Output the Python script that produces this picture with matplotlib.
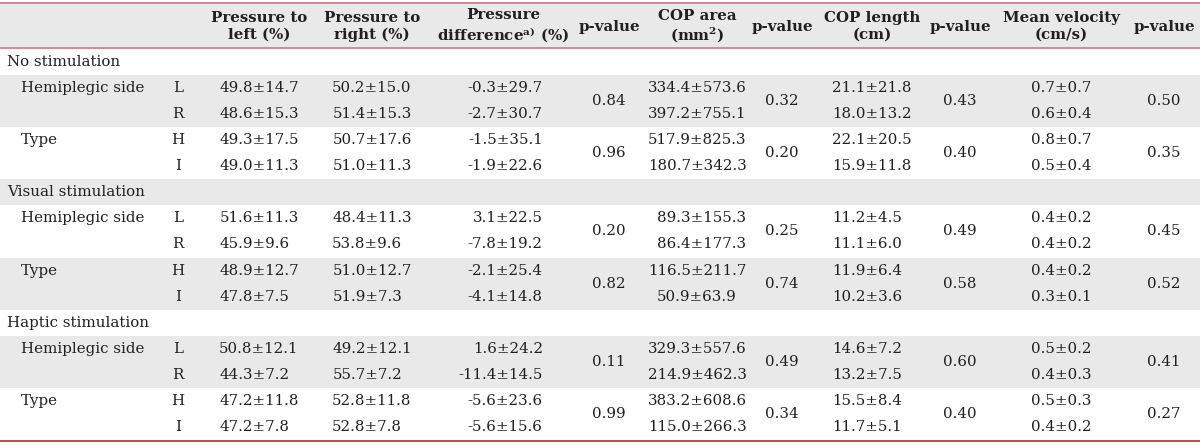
import matplotlib
matplotlib.use("Agg")
import matplotlib.pyplot as plt

# ---------------- data ----------------
groups = ["No stimulation", "Visual stimulation", "Haptic stimulation"]
factors = ["Hemiplegic side", "Type"]
levels = [["L", "R"], ["H", "I"]]

headers = [
    "Pressure to\nleft (%)",
    "Pressure to\nright (%)",
    "Pressure\ndifference$^{\\mathbf{a)}}$ (%)",
    "p-value",
    "COP area\n(mm$^{\\mathbf{2}}$)",
    "p-value",
    "COP length\n(cm)",
    "p-value",
    "Mean velocity\n(cm/s)",
    "p-value",
]

press_left = ["49.8±14.7", "48.6±15.3", "49.3±17.5", "49.0±11.3",
              "51.6±11.3", "45.9±9.6", "48.9±12.7", "47.8±7.5",
              "50.8±12.1", "44.3±7.2", "47.2±11.8", "47.2±7.8"]
press_right = ["50.2±15.0", "51.4±15.3", "50.7±17.6", "51.0±11.3",
               "48.4±11.3", "53.8±9.6", "51.0±12.7", "51.9±7.3",
               "49.2±12.1", "55.7±7.2", "52.8±11.8", "52.8±7.8"]
press_diff = ["-0.3±29.7", "-2.7±30.7", "-1.5±35.1", "-1.9±22.6",
              "3.1±22.5", "-7.8±19.2", "-2.1±25.4", "-4.1±14.8",
              "1.6±24.2", "-11.4±14.5", "-5.6±23.6", "-5.6±15.6"]
p_diff = ["0.84", "0.96", "0.20", "0.82", "0.11", "0.99"]
cop_area = ["334.4±573.6", "397.2±755.1", "517.9±825.3", "180.7±342.3",
            "89.3±155.3", "86.4±177.3", "116.5±211.7", "50.9±63.9",
            "329.3±557.6", "214.9±462.3", "383.2±608.6", "115.0±266.3"]
p_area = ["0.32", "0.20", "0.25", "0.74", "0.49", "0.34"]
cop_len = ["21.1±21.8", "18.0±13.2", "22.1±20.5", "15.9±11.8",
           "11.2±4.5", "11.1±6.0", "11.9±6.4", "10.2±3.6",
           "14.6±7.2", "13.2±7.5", "15.5±8.4", "11.7±5.1"]
p_len = ["0.43", "0.40", "0.49", "0.58", "0.60", "0.40"]
mean_vel = ["0.7±0.7", "0.6±0.4", "0.8±0.7", "0.5±0.4",
            "0.4±0.2", "0.4±0.2", "0.4±0.2", "0.3±0.1",
            "0.5±0.2", "0.4±0.3", "0.5±0.3", "0.4±0.2"]
p_vel = ["0.50", "0.35", "0.45", "0.52", "0.41", "0.27"]

# ---------------- layout ----------------
W, H = 1200, 445
plt.rcParams["font.family"] = ["DejaVu Serif"]
plt.rcParams["mathtext.fontset"] = "dejavuserif"
FS = 10.8
TXT = "#231f20"
GRAY = "#e9e9e9"
LINE_HDR = "#d48a92"
LINE_BOT = "#c0474f"

fig = plt.figure(figsize=(W / 100, H / 100), dpi=100)
ax = fig.add_axes([0, 0, 1, 1])
ax.set_xlim(0, W)
ax.set_ylim(H, 0)
ax.axis("off")
renderer = fig.canvas.get_renderer()

col_x = [259, 372, 503, 609, 697, 782, 872, 960, 1061, 1164]
hdr_top, hdr_bot = 3, 48
body_top, body_bot = 49, 440
n_rows = 15
rh = (body_bot - body_top) / n_rows


def row_c(i):
    return body_top + rh * (i + 0.5)


# header background
ax.axhspan(hdr_top, hdr_bot, color=GRAY, lw=0, zorder=0)

gray_rows = []
row = 0
band = 0
layout = []
for g in range(len(groups)):
    layout.append(("group", g, row))
    if band % 2 == 1:
        gray_rows.append((row, 1))
    band += 1
    row += 1
    for f in range(len(factors)):
        layout.append(("factor", (g, f), row))
        if band % 2 == 1:
            gray_rows.append((row, 2))
        band += 1
        row += 2

for r0, n in gray_rows:
    ax.axhspan(body_top + rh * r0, body_top + rh * (r0 + n), color=GRAY, lw=0, zorder=0)

ax.axhline(hdr_top, color=LINE_HDR, lw=1.4, zorder=2)
ax.axhline(hdr_bot, color=LINE_HDR, lw=1.4, zorder=2)
ax.axhline(body_bot + 1, color=LINE_BOT, lw=1.4, zorder=2)

for x, h in zip(col_x, headers):
    ax.text(x, (hdr_top + hdr_bot) / 2 + 1, h, ha="center", va="center",
            fontsize=FS, fontweight="bold", color=TXT, linespacing=1.2)

val_cols = [(press_left, 0), (press_right, 1), (press_diff, 2),
            (cop_area, 4), (cop_len, 6), (mean_vel, 8)]
p_cols = [(p_diff, 3), (p_area, 5), (p_len, 7), (p_vel, 9)]


def text_width(s):
    t = ax.text(0, 0, s, fontsize=FS)
    bb = t.get_window_extent(renderer=renderer)
    t.remove()
    return bb.width  # pixels == data units here


pm_w = text_width("±")


def pm_text(x, y, s):
    left = s.split("±")[0]
    full_w = text_width(s)
    left_w = text_width(left + "±") - pm_w
    ax.text(x - pm_w / 2 - left_w, y, s, ha="left", va="center", fontsize=FS, color=TXT)


for kind, key, r in layout:
    if kind == "group":
        ax.text(7, row_c(r), groups[key], ha="left", va="center", fontsize=FS, color=TXT)
    else:
        g, f = key
        blk = g * 2 + f
        ax.text(21, row_c(r), factors[f], ha="left", va="center", fontsize=FS, color=TXT)
        for k in range(2):
            y = row_c(r + k)
            ax.text(178, y, levels[f][k], ha="center", va="center", fontsize=FS, color=TXT)
            idx = blk * 2 + k
            for vals, ci in val_cols:
                pm_text(col_x[ci], y, vals[idx])
        ymid = body_top + rh * (r + 1)
        for pv, ci in p_cols:
            ax.text(col_x[ci], ymid, pv[blk], ha="center", va="center", fontsize=FS, color=TXT)

fig.savefig("out.png", dpi=100)
